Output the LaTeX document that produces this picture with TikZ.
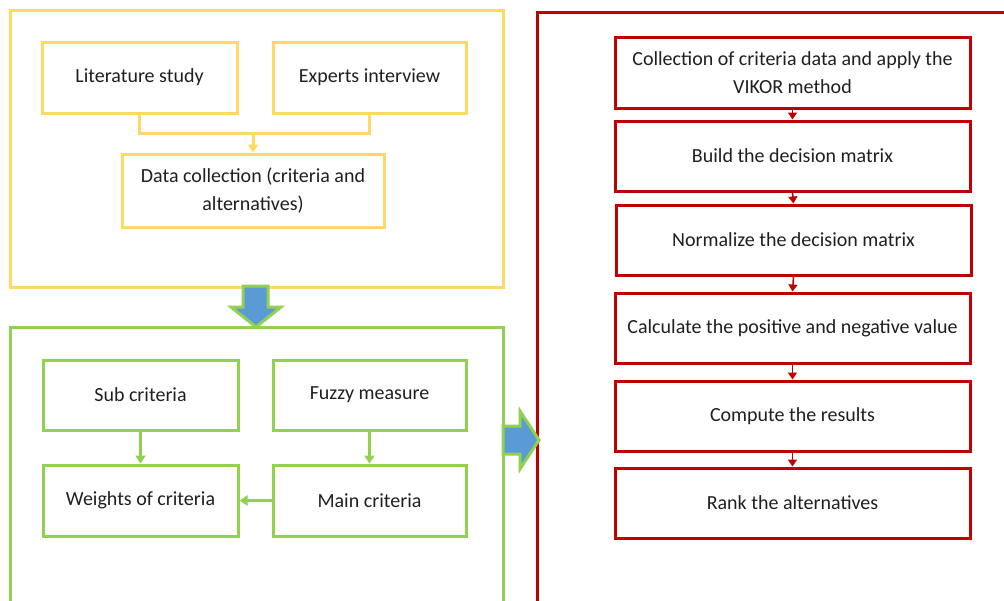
\documentclass[tikz,border=0pt]{standalone}
\usepackage{fontspec}
\setmainfont{Carlito}
\usetikzlibrary{arrows.meta}
\definecolor{ylw}{HTML}{FFD966}
\definecolor{grn}{HTML}{92D050}
\definecolor{rd}{HTML}{C00000}
\definecolor{blu}{HTML}{5B9BD5}
\begin{document}
\begin{tikzpicture}[x=1pt,y=-1pt,>=Triangle,font=\fontsize{20}{28}\selectfont,text=black!88]
\tikzstyle{yb}=[draw=ylw,line width=3pt,minimum height=71pt,align=center]
\tikzstyle{gb}=[draw=grn,line width=3pt,minimum height=71pt,align=center]
\tikzstyle{rb}=[draw=rd,line width=3pt,minimum width=355pt,minimum height=70pt,align=center]
\tikzstyle{blk}=[fill=blu,draw=grn,line width=3pt,line join=miter]
\useasboundingbox (0,0) rectangle (1004,600);
\clip (0,0) rectangle (1004,600);
% outer frames
\draw[ylw,line width=3pt] (10,10) rectangle (503,287);
\draw[grn,line width=3pt] (10,327) rectangle (503,660);
\draw[rd,line width=3pt] (537,12) rectangle (1060,660);
% data gathering
\node[yb,minimum width=195pt] (lit) at (139.5,77.5) {Literature study};
\node[yb,minimum width=193pt] (exp) at (369.5,77.5) {Experts interview};
\node[yb,minimum width=262pt,minimum height=73pt] (dat) at (253,190.5) {Data collection (criteria and\\alternatives)};
\coordinate (j) at (dat.north |- 0,133);
\draw[ylw,line width=3pt] (lit.south) |- (j) -| (exp.south);
\draw[ylw,line width=3pt,-{Triangle[width=10pt,length=8pt]}] (j) -- (dat.north);
% weighting
\node[gb,minimum width=195pt,minimum height=70pt] (sub) at (140.5,395) {Sub criteria};
\node[gb,minimum width=193pt,minimum height=70pt] (fuz) at (369.5,395) {Fuzzy measure};
\node[gb,minimum width=195pt] (wei) at (140.5,500.5) {Weights of criteria};
\node[gb,minimum width=193pt] (mai) at (369.5,500.5) {Main criteria};
\foreach \a/\b in {sub.south/wei.north,fuz.south/mai.north,mai.west/wei.east}
  \draw[grn,line width=3pt,-{Triangle[width=10pt,length=8pt]}] (\a) -- (\b);
% VIKOR steps
\node[rb,minimum height=71pt] (r1) at (792.5,72.5) {Collection of criteria data and apply the\\VIKOR method};
\node[rb] (r2) at (792.5,156) {Build the decision matrix};
\node[rb] (r3) at (793.5,240) {Normalize the decision matrix};
\node[rb] (r4) at (792.5,328) {Calculate the positive and negative value};
\node[rb] (r5) at (792.5,416) {Compute the results};
\node[rb] (r6) at (792.5,503) {Rank the alternatives};
\foreach \a/\b in {r1/r2,r2/r3,r3/r4,r4/r5,r5/r6}
  \draw[rd,line width=1.5pt,-{Triangle[width=9pt,length=7pt]}] (\a.south) -- (\b.north);
% block arrows
\draw[blk] (243,286) -- (268,286) -- (268,307) -- (281,307) -- (256,327) -- (231,307) -- (243,307) -- cycle;
\draw[blk] (503,426) -- (520,426) -- (520,411) -- (539,440) -- (520,469) -- (520,454) -- (503,454) -- cycle;
\end{tikzpicture}
\end{document}
